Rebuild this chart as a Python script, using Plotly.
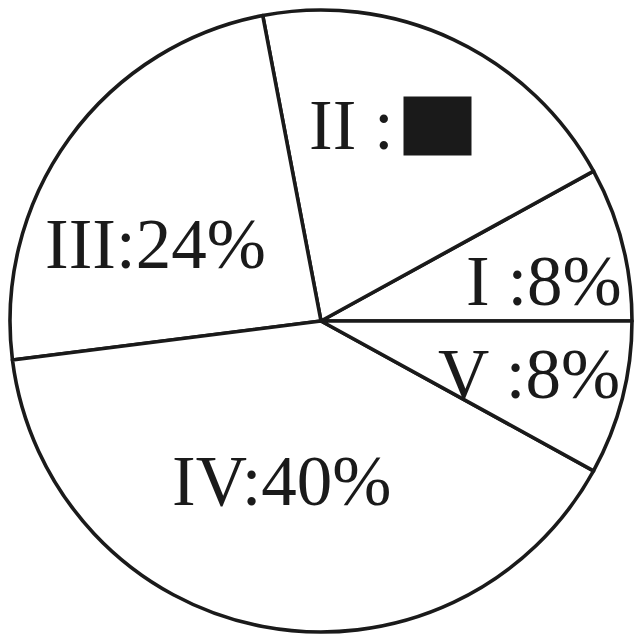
import plotly.graph_objects as go

labels = ["I", "II", "III", "IV", "V"]
values = [8, 20, 24, 40, 8]
label_texts = ["I :8%", "II :", "III:24%", "IV:40%", "V :8%"]

# page offset from the default 8px body margin
OFF = 8
W, H = 634, 626
ML, MR, MT, MB = 2, 10, 2, 2
PW, PH = W - ML - MR, H - MT - MB
INK = "#1a1a1a"

# label anchor positions in page pixels (x, y from top), anchor type
label_pos = [(544, 281, "center"), (307, 125, "left"), (155, 244, "center"),
             (282, 481, "center"), (529, 374, "center")]

fig = go.Figure(go.Pie(
    labels=labels,
    values=values,
    sort=False,
    direction="counterclockwise",
    rotation=61.2,
    textinfo="none",
    hoverinfo="label+percent",
    marker=dict(colors=["white"] * len(values), line=dict(color=INK, width=3.6)),
    showlegend=False,
))


def px2paper(px, py):
    return (px - OFF - ML) / PW, 1 - (py - OFF - MT) / PH


ann = []
for t, (px, py, anc) in zip(label_texts, label_pos):
    x, y = px2paper(px, py)
    ann.append(dict(
        text=t, x=x, y=y, xref="paper", yref="paper",
        showarrow=False, xanchor=anc, yanchor="middle",
        font=dict(family="Liberation Serif, Times New Roman, serif", size=71, color=INK),
    ))
# hidden value box for II
bx, by = px2paper(437.5, 126)
ann.append(dict(
    text=" ", x=bx, y=by, xref="paper", yref="paper",
    showarrow=False, xanchor="center", yanchor="middle",
    width=67, height=58, bgcolor=INK, borderpad=0,
    font=dict(size=10, color=INK),
))

fig.update_layout(
    width=W, height=H,
    margin=dict(l=ML, r=MR, t=MT, b=MB),
    paper_bgcolor="white", plot_bgcolor="white",
    annotations=ann,
)

fig.write_html("out.html")
